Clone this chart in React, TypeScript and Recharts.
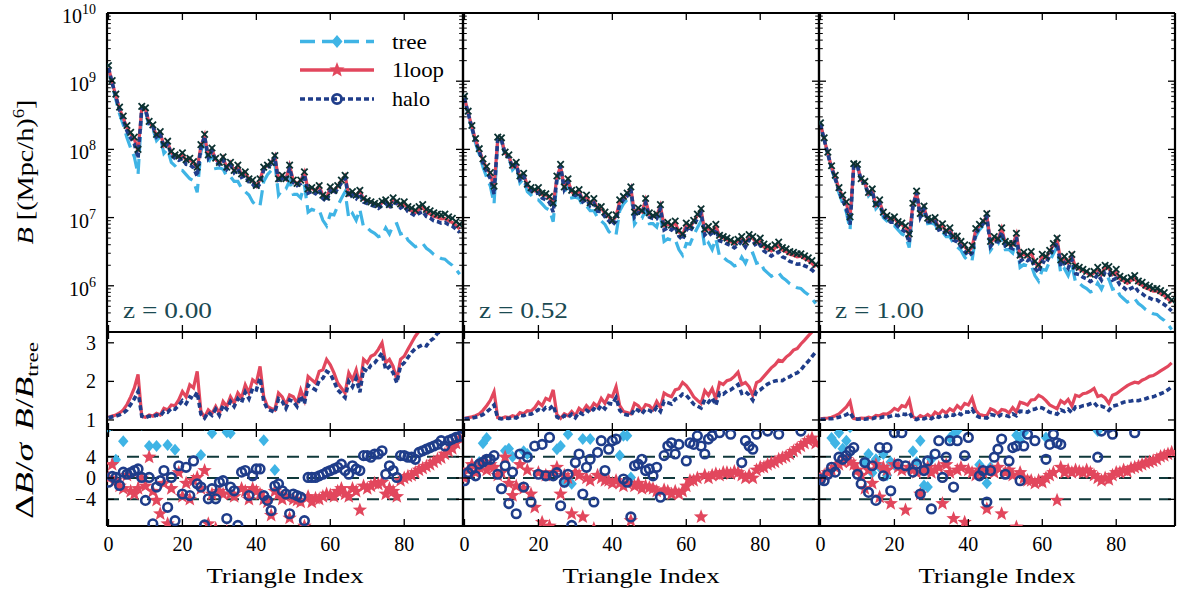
import React from 'react';
import { ComposedChart, Line, Scatter, XAxis, YAxis, ReferenceLine } from 'recharts';

// ---------------- categories & tick labels ----------------
const triangleIndex: number[] = Array.from({ length: 96 }, (_, i) => i);
const redshiftLabels = ['z = 0.00', 'z = 0.52', 'z = 1.00'];
const xTickValues = [0, 20, 40, 60, 80];
const ratioTickValues = [1, 2, 3];
const deltaTickValues = [-4, 0, 4];
const deltaGuideValues = [-4, 0, 4];
const logMajorExponents = [6, 7, 8, 9, 10];

// ---------------- tree-level bispectrum, log10 B [(Mpc/h)^6] ----------------
const treeZ0 = [
  9.17, 8.94, 8.73, 8.52, 8.36, 8.17, 8.02, 7.89, 7.63, 8.56,
  8.56, 8.34, 8.30, 8.13, 8.19, 7.94, 8.00, 7.81, 7.76, 7.70,
  7.69, 7.63, 7.57, 7.54, 7.37, 7.96, 8.17, 7.80, 7.93, 7.72,
  7.73, 7.71, 7.60, 7.60, 7.53, 7.53, 7.43, 7.38, 7.33, 7.23,
  7.17, 7.18, 7.53, 7.63, 7.69, 7.80, 7.33, 7.41, 7.42, 7.54,
  7.34, 7.34, 7.29, 7.48, 7.08, 7.12, 7.10, 7.11, 6.96, 6.88,
  7.05, 7.04, 7.17, 7.28, 7.38, 6.99, 7.06, 6.96, 7.12, 6.86,
  6.85, 6.80, 6.77, 6.72, 6.74, 6.85, 6.76, 6.89, 6.91, 6.76,
  6.78, 6.67, 6.62, 6.57, 6.60, 6.62, 6.55, 6.51, 6.46, 6.43,
  6.40, 6.39, 6.34, 6.30, 6.24, 6.17,
];
const treeZ052 = [
  8.74, 8.51, 8.30, 8.09, 7.93, 7.74, 7.59, 7.46, 7.20, 8.13,
  8.13, 7.91, 7.87, 7.70, 7.76, 7.51, 7.57, 7.38, 7.33, 7.27,
  7.26, 7.20, 7.14, 7.11, 6.94, 7.53, 7.74, 7.37, 7.50, 7.29,
  7.30, 7.28, 7.17, 7.17, 7.10, 7.10, 7.00, 6.95, 6.90, 6.80,
  6.74, 6.75, 7.10, 7.20, 7.26, 7.37, 6.90, 6.98, 6.99, 7.11,
  6.91, 6.91, 6.86, 7.05, 6.65, 6.69, 6.67, 6.68, 6.53, 6.45,
  6.62, 6.61, 6.74, 6.85, 6.95, 6.56, 6.63, 6.53, 6.69, 6.43,
  6.42, 6.37, 6.34, 6.29, 6.31, 6.42, 6.33, 6.46, 6.48, 6.33,
  6.35, 6.24, 6.19, 6.14, 6.17, 6.19, 6.12, 6.08, 6.03, 6.00,
  5.97, 5.96, 5.91, 5.87, 5.81, 5.74,
];
const treeZ1 = [
  8.36, 8.13, 7.92, 7.71, 7.55, 7.36, 7.21, 7.08, 6.82, 7.75,
  7.75, 7.53, 7.49, 7.32, 7.38, 7.13, 7.19, 7.00, 6.95, 6.89,
  6.88, 6.82, 6.76, 6.73, 6.56, 7.15, 7.36, 6.99, 7.12, 6.91,
  6.92, 6.90, 6.79, 6.79, 6.72, 6.72, 6.62, 6.57, 6.52, 6.42,
  6.36, 6.37, 6.72, 6.82, 6.88, 6.99, 6.52, 6.60, 6.61, 6.73,
  6.53, 6.53, 6.48, 6.67, 6.27, 6.31, 6.29, 6.30, 6.15, 6.07,
  6.24, 6.23, 6.36, 6.47, 6.57, 6.18, 6.25, 6.15, 6.31, 6.05,
  6.04, 5.99, 5.96, 5.91, 5.93, 6.04, 5.95, 6.08, 6.10, 5.95,
  5.97, 5.86, 5.81, 5.76, 5.79, 5.81, 5.74, 5.70, 5.65, 5.62,
  5.59, 5.58, 5.53, 5.49, 5.43, 5.36,
];

// ---------------- B_1loop / B_tree ----------------
const rLoopZ0 = [
  1.07, 1.10, 1.13, 1.18, 1.26, 1.40, 1.60, 1.83, 2.18, 1.09,
  1.07, 1.13, 1.10, 1.17, 1.13, 1.30, 1.26, 1.39, 1.37, 1.52,
  1.74, 1.60, 1.91, 1.83, 2.26, 1.22, 1.07, 1.26, 1.17, 1.35,
  1.17, 1.48, 1.35, 1.60, 1.43, 1.70, 1.57, 1.91, 1.70, 2.04,
  1.96, 2.39, 1.60, 1.35, 1.30, 1.26, 1.70, 1.60, 1.39, 1.65,
  1.60, 1.43, 1.78, 1.52, 2.13, 2.04, 1.96, 2.26, 2.30, 2.57,
  2.43, 2.22, 1.96, 1.83, 1.70, 2.22, 2.04, 2.30, 1.87, 2.57,
  2.48, 2.65, 2.70, 2.83, 3.00, 2.48, 2.57, 2.39, 2.04, 2.57,
  2.65, 2.83, 3.00, 3.17, 3.30, 3.40, 3.35, 3.50, 3.60, 3.75,
  3.80, 3.95, 4.10, 4.25, 4.40, 4.60,
];
const rLoopZ052 = [
  1.04, 1.06, 1.08, 1.11, 1.16, 1.25, 1.37, 1.51, 1.73, 1.06,
  1.04, 1.08, 1.06, 1.11, 1.08, 1.19, 1.16, 1.24, 1.23, 1.32,
  1.46, 1.37, 1.56, 1.51, 1.78, 1.14, 1.04, 1.16, 1.11, 1.22,
  1.11, 1.30, 1.22, 1.37, 1.27, 1.43, 1.35, 1.56, 1.43, 1.64,
  1.60, 1.86, 1.37, 1.22, 1.19, 1.16, 1.43, 1.37, 1.24, 1.40,
  1.37, 1.27, 1.48, 1.32, 1.70, 1.64, 1.60, 1.78, 1.81, 1.97,
  1.89, 1.76, 1.60, 1.51, 1.43, 1.76, 1.64, 1.81, 1.54, 1.97,
  1.92, 2.02, 2.05, 2.13, 2.24, 1.92, 1.97, 1.86, 1.64, 1.97,
  2.02, 2.13, 2.24, 2.35, 2.43, 2.55, 2.52, 2.63, 2.70, 2.81,
  2.85, 2.97, 3.07, 3.18, 3.28, 3.42,
];
const rLoopZ1 = [
  1.03, 1.04, 1.05, 1.07, 1.11, 1.16, 1.25, 1.34, 1.48, 1.04,
  1.03, 1.05, 1.04, 1.07, 1.05, 1.12, 1.11, 1.16, 1.15, 1.21,
  1.30, 1.25, 1.37, 1.34, 1.52, 1.09, 1.03, 1.11, 1.07, 1.14,
  1.07, 1.20, 1.14, 1.25, 1.18, 1.29, 1.23, 1.37, 1.29, 1.43,
  1.39, 1.57, 1.25, 1.14, 1.12, 1.11, 1.29, 1.25, 1.16, 1.27,
  1.25, 1.18, 1.32, 1.21, 1.46, 1.43, 1.39, 1.52, 1.53, 1.64,
  1.59, 1.50, 1.39, 1.34, 1.29, 1.50, 1.43, 1.53, 1.36, 1.64,
  1.61, 1.68, 1.70, 1.75, 1.82, 1.61, 1.64, 1.57, 1.43, 1.64,
  1.68, 1.75, 1.82, 1.89, 1.94, 1.98, 1.96, 2.03, 2.07, 2.13,
  2.15, 2.21, 2.27, 2.33, 2.39, 2.48,
];

// ---------------- B_halo / B_tree ----------------
const rHaloZ0 = [
  1.06, 1.08, 1.10, 1.13, 1.18, 1.26, 1.40, 1.55, 1.74, 1.10,
  1.06, 1.10, 1.08, 1.13, 1.10, 1.22, 1.20, 1.30, 1.28, 1.38,
  1.50, 1.42, 1.60, 1.55, 1.72, 1.15, 1.05, 1.20, 1.12, 1.28,
  1.12, 1.38, 1.28, 1.48, 1.35, 1.55, 1.45, 1.72, 1.55, 1.82,
  1.78, 2.09, 1.48, 1.28, 1.24, 1.20, 1.55, 1.48, 1.30, 1.52,
  1.48, 1.35, 1.62, 1.42, 1.90, 1.84, 1.78, 2.02, 2.08, 2.26,
  2.20, 2.00, 1.78, 1.68, 1.58, 2.00, 1.86, 2.08, 1.72, 2.32,
  2.26, 2.42, 2.48, 2.60, 2.74, 2.30, 2.38, 2.22, 1.96, 2.40,
  2.48, 2.62, 2.75, 2.85, 2.90, 2.95, 2.92, 3.05, 3.12, 3.25,
  3.30, 3.45, 3.60, 3.75, 3.90, 4.10,
];
const rHaloZ052 = [
  1.03, 1.04, 1.05, 1.07, 1.10, 1.14, 1.21, 1.29, 1.39, 1.05,
  1.03, 1.05, 1.04, 1.07, 1.05, 1.12, 1.11, 1.16, 1.15, 1.20,
  1.27, 1.22, 1.32, 1.29, 1.38, 1.08, 1.03, 1.11, 1.06, 1.15,
  1.06, 1.20, 1.15, 1.25, 1.19, 1.29, 1.24, 1.38, 1.29, 1.43,
  1.41, 1.58, 1.25, 1.15, 1.13, 1.11, 1.29, 1.25, 1.16, 1.28,
  1.25, 1.19, 1.33, 1.22, 1.48, 1.45, 1.41, 1.54, 1.57, 1.67,
  1.64, 1.53, 1.41, 1.36, 1.31, 1.53, 1.46, 1.57, 1.38, 1.70,
  1.67, 1.75, 1.78, 1.85, 1.92, 1.69, 1.73, 1.65, 1.51, 1.74,
  1.78, 1.86, 1.93, 1.98, 2.01, 2.03, 2.02, 2.09, 2.12, 2.19,
  2.22, 2.30, 2.42, 2.52, 2.64, 2.76,
];
const rHaloZ1 = [
  1.02, 1.02, 1.03, 1.03, 1.05, 1.07, 1.10, 1.14, 1.19, 1.03,
  1.02, 1.03, 1.02, 1.03, 1.03, 1.06, 1.05, 1.08, 1.07, 1.10,
  1.13, 1.11, 1.16, 1.14, 1.19, 1.04, 1.01, 1.05, 1.03, 1.07,
  1.03, 1.10, 1.07, 1.12, 1.09, 1.14, 1.12, 1.19, 1.14, 1.21,
  1.20, 1.28, 1.12, 1.07, 1.06, 1.05, 1.14, 1.12, 1.08, 1.14,
  1.12, 1.09, 1.16, 1.11, 1.23, 1.22, 1.20, 1.27, 1.28, 1.33,
  1.31, 1.26, 1.20, 1.18, 1.15, 1.26, 1.22, 1.28, 1.19, 1.34,
  1.33, 1.37, 1.38, 1.42, 1.45, 1.34, 1.36, 1.32, 1.25, 1.36,
  1.38, 1.42, 1.46, 1.48, 1.49, 1.51, 1.50, 1.53, 1.55, 1.59,
  1.60, 1.64, 1.68, 1.72, 1.78, 1.86,
];

// ---------------- measured bispectrum (crosses), log10 B ----------------
const dataZ0 = [
  9.23, 9.01, 8.81, 8.62, 8.49, 8.35, 8.25, 8.18, 8.00, 8.63,
  8.61, 8.41, 8.36, 8.22, 8.26, 8.07, 8.12, 7.97, 7.92, 7.90,
  7.95, 7.85, 7.87, 7.82, 7.74, 8.07, 8.22, 7.92, 8.02, 7.87,
  7.81, 7.89, 7.74, 7.81, 7.69, 7.77, 7.64, 7.67, 7.57, 7.55,
  7.47, 7.57, 7.74, 7.77, 7.81, 7.91, 7.57, 7.62, 7.57, 7.77,
  7.55, 7.50, 7.55, 7.67, 7.42, 7.44, 7.40, 7.47, 7.33, 7.30,
  7.45, 7.40, 7.47, 7.55, 7.62, 7.35, 7.38, 7.33, 7.40, 7.28,
  7.25, 7.23, 7.21, 7.19, 7.24, 7.26, 7.19, 7.29, 7.24, 7.20,
  7.23, 7.16, 7.14, 7.11, 7.16, 7.19, 7.12, 7.10, 7.07, 7.05,
  7.04, 7.05, 7.01, 6.99, 6.94, 6.90,
];
const dataZ052 = [
  8.78, 8.56, 8.35, 8.16, 8.01, 7.86, 7.75, 7.66, 7.46, 8.18,
  8.17, 7.96, 7.92, 7.77, 7.81, 7.61, 7.65, 7.49, 7.44, 7.41,
  7.44, 7.36, 7.35, 7.31, 7.21, 7.61, 7.78, 7.45, 7.57, 7.40,
  7.37, 7.41, 7.28, 7.33, 7.22, 7.28, 7.15, 7.16, 7.08, 7.04,
  6.96, 7.04, 7.26, 7.31, 7.36, 7.45, 7.08, 7.14, 7.10, 7.28,
  7.07, 7.03, 7.05, 7.19, 6.90, 6.93, 6.89, 6.95, 6.81, 6.76,
  6.92, 6.88, 6.96, 7.05, 7.13, 6.83, 6.87, 6.81, 6.90, 6.74,
  6.72, 6.70, 6.67, 6.64, 6.68, 6.72, 6.64, 6.75, 6.72, 6.65,
  6.70, 6.61, 6.58, 6.55, 6.60, 6.64, 6.56, 6.54, 6.50, 6.49,
  6.47, 6.47, 6.44, 6.41, 6.37, 6.31,
];
const dataZ1 = [
  8.39, 8.17, 7.96, 7.76, 7.62, 7.44, 7.33, 7.23, 7.01, 7.79,
  7.78, 7.57, 7.53, 7.37, 7.42, 7.20, 7.26, 7.08, 7.03, 6.99,
  7.01, 6.94, 6.92, 6.88, 6.76, 7.21, 7.39, 7.06, 7.17, 6.99,
  6.97, 7.00, 6.87, 6.91, 6.81, 6.85, 6.73, 6.73, 6.65, 6.60,
  6.52, 6.59, 6.84, 6.90, 6.95, 7.06, 6.65, 6.72, 6.69, 6.85,
  6.65, 6.62, 6.62, 6.77, 6.45, 6.49, 6.45, 6.50, 6.36, 6.31,
  6.46, 6.43, 6.52, 6.62, 6.70, 6.38, 6.43, 6.36, 6.46, 6.29,
  6.27, 6.24, 6.21, 6.17, 6.21, 6.27, 6.19, 6.30, 6.28, 6.19,
  6.24, 6.14, 6.11, 6.08, 6.12, 6.15, 6.07, 6.05, 6.01, 5.99,
  5.96, 5.96, 5.93, 5.90, 5.85, 5.79,
];

// ---------------- Delta B / sigma ----------------
const dTreeZ0 = [
  9.5, 10, 3.4, 11, 6.9, 12, 13, 14, 15, 10,
  11, 6.0, 12, 6.0, 13, 14, 6.2, 13, 5.3, 14,
  15, 16, 15, 17, 18, 4.3, 10, 11, 8.4, 13,
  14, 15, 8.6, 8.4, 16, 17, 15, 18, 17, 19,
  18, 20, 7.1, 13, 12, 1.5, 16, 17, 15, 18,
  19, 18, 20, 17, 21, 22, 20, 23, 22, 24,
  22, 21, 19, 18, 17, 23, 22, 24, 20, 25,
  24, 26, 25, 27, 28, 24, 25, 23, 21, 26,
  27, 28, 29, 30, 31, 32, 31, 33, 34, 35,
  35, 36, 37, 38, 39, 40,
];
const dLoopZ0 = [
  0.0, 2.5, -0.5, -1.5, -2.0, 0.5, -2.5, -3.0, -2.0, 0.0,
  -1.5, 3.9, -2.5, -4.2, -6.7, -1.0, -8.6, -2.0, -10, 1.0,
  -3.5, -1.0, -4.0, -0.5, 0.1, -2.0, 1.4, -8.6, -3.0, -9.5,
  -2.5, -3.0, -10, -3.0, -3.5, -11, -2.0, -2.5, -4.0, -2.0,
  -2.5, -3.0, -4.0, -4.5, -7.0, -2.5, -3.0, -4.0, -3.5, -7.5,
  -4.0, -4.2, -4.5, -9.0, -3.5, -4.5, -3.8, -4.0, -3.5, -3.0,
  -3.2, -3.5, -2.5, -2.0, -3.0, -3.5, -2.0, -2.5, -6.0, -1.5,
  -2.0, -1.5, -1.0, -1.2, -0.8, -3.0, -2.0, -2.5, -3.5, -0.5,
  0.0, 0.3, 0.5, 1.0, 1.5, 1.8, 2.2, 2.5, 3.0, 3.5,
  3.8, 4.5, 5.0, 5.5, 6.5, 7.5,
];
const dHaloZ0 = [
  -0.8, 0.3, 0.1, -1.4, 1.1, 0.7, 1.0, 1.4, 1.7, 0.1,
  -4.2, 0.1, -8.6, -1.7, -0.5, 1.4, -5.5, 0.1, -8.0, 2.3,
  -3.0, 2.0, -3.3, 3.2, -1.1, -1.7, -8.8, -3.9, -2.0, -3.9,
  -0.8, -0.5, -7.6, -1.7, -2.4, -8.9, 1.1, 1.4, -3.3, 0.4,
  1.7, 1.7, -3.3, -4.2, -6.1, -1.5, -1.1, -2.4, -3.0, -6.7,
  -3.0, -3.3, -3.6, -8.0, 0.1, 0.1, 0.1, 0.4, 0.7, 1.1,
  1.4, 1.7, 2.0, 2.6, 1.4, 0.7, 2.3, 1.7, 1.4, 4.2,
  4.2, 3.9, 4.5, 4.5, 5.1, 0.7, 2.3, 1.4, 0.1, 4.2,
  4.2, 3.9, 3.9, 3.5, 4.8, 5.1, 5.4, 5.7, 6.0, 6.3,
  7.0, 6.0, 7.0, 7.3, 7.6, 7.8,
];
const dTreeZ052 = [
  10, 11, 12, 13, 3.0, 6.5, 7.5, 12, 13, 10,
  11, 5.1, 5.5, 4.0, 12, 13, 5.0, 4.5, 14, 15,
  13, 14, 15, 16, 17, 5.4, 6.0, -0.8, 8.2, -1.1,
  14, 13, 7.3, 15, 7.3, 16, 17, 15, 18, 19,
  17, 18, 4.2, 7.9, 7.9, 0.1, 18, 19, 20, 21,
  20, 19, 22, 21, 23, 22, 24, 23, 25, 26,
  24, 23, 22, 21, 20, 25, 24, 26, 23, 27,
  26, 28, 27, 29, 30, 27, 28, 26, 24, 29,
  30, 31, 32, 33, 34, 35, 34, 36, 37, 38,
  39, 40, 41, 42, 43, 44,
];
const dLoopZ052 = [
  0.0, 1.5, 2.5, 1.0, 2.0, 3.0, 1.5, 2.5, 2.0, 0.5,
  1.0, 3.9, -1.0, -3.3, -1.5, 2.5, -2.0, 1.5, -3.0, -5.5,
  1.0, -8.3, 0.5, -9.0, 1.0, 2.0, -3.0, 0.5, 0.0, -6.7,
  1.0, 0.5, -7.3, 0.0, -0.5, -9.5, 0.5, 0.0, -0.5, -0.5,
  -1.0, -0.5, -1.0, -1.5, -1.0, -8.0, -1.5, -1.0, -2.0, -1.5,
  -1.8, -2.0, -2.5, -11, -2.2, -2.5, -3.0, -2.5, -3.0, -2.5,
  -1.5, -0.5, -0.5, 0.0, -7.3, 0.5, 0.0, 0.5, 0.8, 0.5,
  1.0, 1.0, 0.8, 1.2, 1.0, 0.5, 0.0, 0.5, 0.0, 1.5,
  2.0, 2.0, 2.5, 2.8, 3.0, 3.5, 3.8, 4.0, 4.5, 5.0,
  5.5, 6.0, 6.5, 7.0, 7.5, 6.5,
];
const dHaloZ052 = [
  -0.5, 1.0, 1.7, 0.4, 2.6, 3.0, 3.5, 3.5, 4.2, 0.7,
  -2.0, 2.3, -4.8, 1.1, -6.7, 4.5, -1.7, 3.9, -4.5, 6.0,
  0.7, 6.3, 0.4, 7.6, 0.4, 1.0, -5.2, -0.8, 0.7, -8.9,
  2.9, 4.5, -3.0, 2.0, 3.5, -4.5, 4.8, 7.0, 1.4, 5.4,
  7.0, 7.3, 10, -0.2, -0.8, -7.3, 2.3, 2.6, 3.5, 1.4,
  1.7, 0.4, 2.0, -3.6, 4.2, 6.0, 6.6, 4.5, 6.3, 10,
  3.2, 6.6, 6.3, 7.9, 6.0, 4.5, 7.3, 7.9, 11, 8.5,
  11, 12, 8.2, 12, 11, 2.9, 7.0, 6.0, 5.4, 8.2,
  12, 11, 8.8, 12, 13, 8.2, 12, 13, 12, 14,
  13, 8.8, 14, 15, 14, 16,
];
const dTreeZ1 = [
  10, 11, 12, 7.5, 6.5, 8.5, 5.5, 7.0, 9.5, 11,
  12, 13, 3.0, 4.5, 1.0, 3.5, 2.0, 4.5, 0.5, 3.0,
  2.5, 11, 12, 13, 14, 5.0, 3.0, 7.0, -1.4, -1.7,
  3.5, 12, 13, 14, 15, 7.5, 8.2, 8.8, 14, 15,
  16, 17, 15, 2.5, 1.0, -1.0, 2.0, 14, 16, 17,
  18, 17, 16, 8.0, 7.0, 8.5, 16, 17, 18, 19,
  17, 7.6, 18, 19, 17, 20, 19, 21, 20, 22,
  21, 23, 22, 24, 25, 8.8, 23, 24, 22, 25,
  26, 27, 28, 29, 30, 31, 30, 32, 33, 34,
  35, 36, 37, 38, 39, 40,
];
const dLoopZ1 = [
  0.0, 0.5, 1.0, 1.5, 2.0, 2.5, 3.0, 3.5, 3.0, 2.5,
  1.5, 0.5, -2.0, 1.5, -1.0, 2.5, -3.6, 2.0, 1.5, -4.8,
  2.5, 2.0, 1.5, -6.0, 2.0, 1.5, 1.0, -3.0, 1.5, 2.0,
  1.0, 1.5, 2.0, -4.8, 2.5, 1.0, -7.6, 1.5, 2.0, -8.3,
  1.5, 1.0, 0.5, 1.5, 1.0, -5.8, 1.5, 1.0, 2.0, -6.7,
  1.0, 1.5, 0.5, -9.2, 1.0, 0.0, -0.5, -0.5, -1.0, -0.5,
  -0.8, 0.0, 0.5, 1.0, -4.2, 2.0, 1.0, 1.5, 1.0, 1.5,
  1.2, 1.0, 1.5, 1.0, 0.5, 0.0, -0.5, 0.0, -0.3, 0.5,
  1.0, 1.0, 1.5, 1.2, 1.8, 2.0, 2.2, 2.5, 2.8, 3.0,
  3.2, 3.5, 4.0, 4.2, 4.5, 4.8,
];
const dHaloZ1 = [
  -0.3, -0.5, 0.7, 2.0, 1.1, 3.9, 3.5, 4.2, 5.1, 5.7,
  0.7, -1.1, 2.9, -2.7, 2.3, -4.2, 5.7, 0.4, 5.7, -2.4,
  8.5, 2.6, 8.5, 2.3, 11, 1.1, 2.6, -3.0, 1.4, 3.2,
  -5.8, 4.5, 7.0, 0.1, 3.9, 7.0, -1.7, 7.0, 11, 4.2,
  7.6, 12, 10, 0.4, 1.4, -4.5, 1.4, 3.9, 5.4, 7.3,
  0.7, 3.2, 5.7, 6.0, -0.5, 6.0, 8.2, 11, 7.0, 12,
  11, 3.5, 6.3, 8.2, 6.6, 6.3, 11, 12, 13, 12,
  11, 13, 12, 14, 13, 3.9, 8.8, 10, 9.5, 8.2,
  12, 13, 12, 14, 13, 8.5, 14, 13, 15, 14,
  13, 15, 16, 14, 15, 16,
];

// ---------------- styling & geometry ----------------
const FONT = "'Liberation Serif', 'DejaVu Serif', serif";
const C_TREE = '#3fb4e5';
const C_LOOP = '#e2475d';
const C_HALO = '#1f3d8a';
const C_DATA = '#0b3232';
const C_GUIDE = '#10393b';
const C_ZTEXT = '#1b4a52';

const COL_L = [107, 463, 819];
const PW = 356;
const ROWS = [
  { top: 13, h: 319 },
  { top: 332, h: 98 },
  { top: 430, h: 96 },
];
const ML = 100;
const MR = 20;
const MT = 15;
const MB = 45;
const AX = 1; // thickness reserved by each axis
const X_DOMAIN: [number, number] = [-0.4, 95.9];
const LOG_DOMAIN: [number, number] = [2.1e5, 1e10];
const RATIO_DOMAIN: [number, number] = [0.74, 3.28];
const DELTA_DOMAIN: [number, number] = [-9, 9];

const LOG_TICKS: number[] = [];
for (let n = 5; n <= 9; n++) {
  for (let k = 1; k <= 9; k++) {
    const v = k * Math.pow(10, n);
    if (v >= LOG_DOMAIN[0]) LOG_TICKS.push(v);
  }
}
LOG_TICKS.push(Math.pow(10, logMajorExponents[logMajorExponents.length - 1]));

const ZSETS = [
  { tree: treeZ0, rLoop: rLoopZ0, rHalo: rHaloZ0, data: dataZ0, dTree: dTreeZ0, dLoop: dLoopZ0, dHalo: dHaloZ0 },
  { tree: treeZ052, rLoop: rLoopZ052, rHalo: rHaloZ052, data: dataZ052, dTree: dTreeZ052, dLoop: dLoopZ052, dHalo: dHaloZ052 },
  { tree: treeZ1, rLoop: rLoopZ1, rHalo: rHaloZ1, data: dataZ1, dTree: dTreeZ1, dLoop: dLoopZ1, dHalo: dHaloZ1 },
];

function buildRows(z: any) {
  return triangleIndex.map((i) => {
    const tree = Math.pow(10, z.tree[i]);
    return {
      x: i,
      tree,
      loop: tree * z.rLoop[i],
      halo: tree * z.rHalo[i],
      data: Math.pow(10, z.data[i]),
      rLoop: z.rLoop[i],
      rHalo: z.rHalo[i],
      dTree: z.dTree[i],
      dLoop: z.dLoop[i],
      dHalo: z.dHalo[i],
    };
  });
}

// ---------------- marker shapes ----------------
const CrossShape = (p: any) => {
  const { cx, cy } = p;
  if (cx == null || cy == null) return <g />;
  const s = 3.2;
  return (
    <g stroke={C_DATA} strokeWidth={1.8}>
      <line x1={cx - s} y1={cy - s} x2={cx + s} y2={cy + s} />
      <line x1={cx - s} y1={cy + s} x2={cx + s} y2={cy - s} />
    </g>
  );
};
const DiamondShape = (p: any) => {
  const { cx, cy } = p;
  if (cx == null || cy == null) return <g />;
  return <path d={`M${cx},${cy - 6}L${cx + 5.2},${cy}L${cx},${cy + 6}L${cx - 5.2},${cy}Z`} fill={C_TREE} />;
};
function starPath(cx: number, cy: number, R: number, r: number) {
  let d = '';
  for (let k = 0; k < 10; k++) {
    const a = -Math.PI / 2 + (k * Math.PI) / 5;
    const rad = k % 2 === 0 ? R : r;
    d += (k ? 'L' : 'M') + (cx + rad * Math.cos(a)).toFixed(2) + ',' + (cy + rad * Math.sin(a)).toFixed(2);
  }
  return d + 'Z';
}
const StarShape = (p: any) => {
  const { cx, cy } = p;
  if (cx == null || cy == null) return <g />;
  return <path d={starPath(cx, cy, 7.6, 3.2)} fill={C_LOOP} />;
};
const RingShape = (p: any) => {
  const { cx, cy } = p;
  if (cx == null || cy == null) return <g />;
  return <circle cx={cx} cy={cy} r={4.3} fill="none" stroke={C_HALO} strokeWidth={2.6} />;
};

// ---------------- ticks ----------------
type Geo = { pl: number; pr: number; pt: number; pb: number };

const makeXTick = (g: Geo, side: 'b' | 't', label: boolean) => (props: any) => {
  const x = props.x;
  const v = props.payload ? props.payload.value : '';
  if (side === 'b') {
    return (
      <g>
        <line x1={x} x2={x} y1={g.pb} y2={g.pb - 7} stroke="#000" strokeWidth={1.3} />
        {label ? (
          <text x={x} y={g.pb + 25} textAnchor="middle" fontSize={20} fontFamily={FONT} fill="#000">
            {v}
          </text>
        ) : null}
      </g>
    );
  }
  return (
    <g>
      <line x1={x} x2={x} y1={g.pt} y2={g.pt + 7} stroke="#000" strokeWidth={1.3} />
    </g>
  );
};

const makeYTick = (g: Geo, side: 'l' | 'r', kind: 'log' | 'lin', label: boolean) => (props: any) => {
  const y = props.y;
  const v = props.payload ? props.payload.value : 0;
  let major = true;
  let expo = 0;
  if (kind === 'log') {
    const e = Math.log10(v);
    expo = Math.round(e);
    major = Math.abs(e - expo) < 1e-6;
  }
  const len = major ? 7 : 3.8;
  const x0 = side === 'l' ? g.pl : g.pr;
  const dir = side === 'l' ? 1 : -1;
  let txt: any = null;
  if (label && side === 'l' && major) {
    if (kind === 'log') {
      txt = (
        <text x={g.pl - 11} y={y + 10} textAnchor="end" fontSize={20} fontFamily={FONT} fill="#000">
          10
          <tspan dy={-9} fontSize={14}>
            {expo}
          </tspan>
        </text>
      );
    } else {
      txt = (
        <text x={g.pl - 11} y={y + 7} textAnchor="end" fontSize={20} fontFamily={FONT} fill="#000">
          {v < 0 ? '\u2212' + Math.abs(v) : String(v)}
        </text>
      );
    }
  }
  return (
    <g>
      <line x1={x0} x2={x0 + dir * len} y1={y} y2={y} stroke="#000" strokeWidth={major ? 1.3 : 1} />
      {txt}
    </g>
  );
};

// ---------------- one panel ----------------
function Panel({ row, col, rows }: { row: number; col: number; rows: any[] }) {
  const L = COL_L[col];
  const { top, h } = ROWS[row];
  const width = PW + ML + MR;
  const height = h + MT + MB;
  const g: Geo = { pl: ML, pr: ML + PW, pt: MT, pb: MT + h };
  const yKind: 'log' | 'lin' = row === 0 ? 'log' : 'lin';
  const yDomain = row === 0 ? LOG_DOMAIN : row === 1 ? RATIO_DOMAIN : DELTA_DOMAIN;
  const yTicks = row === 0 ? LOG_TICKS : row === 1 ? ratioTickValues : deltaTickValues;
  const axisLine = { stroke: '#000', strokeWidth: 2.2 };
  const common = { xAxisId: 'b', yAxisId: 'l', isAnimationActive: false } as any;

  return (
    <div style={{ position: 'absolute', left: L - ML, top: top - MT, width, height }}>
      <ComposedChart
        width={width}
        height={height}
        data={rows}
        margin={{ top: MT - AX, right: MR - AX, bottom: MB - AX, left: ML - AX }}
      >
        <XAxis
          xAxisId="b"
          dataKey="x"
          type="number"
          domain={X_DOMAIN}
          ticks={xTickValues}
          allowDataOverflow
          interval={0}
          height={AX}
          axisLine={axisLine}
          tickLine={false}
          tick={makeXTick(g, 'b', row === 2)}
        />
        <XAxis
          xAxisId="t"
          orientation="top"
          dataKey="x"
          type="number"
          domain={X_DOMAIN}
          ticks={xTickValues}
          allowDataOverflow
          interval={0}
          height={AX}
          axisLine={axisLine}
          tickLine={false}
          tick={makeXTick(g, 't', false)}
        />
        <YAxis
          yAxisId="l"
          type="number"
          scale={row === 0 ? 'log' : 'linear'}
          domain={yDomain}
          ticks={yTicks}
          allowDataOverflow
          interval={0}
          width={AX}
          axisLine={axisLine}
          tickLine={false}
          tick={makeYTick(g, 'l', yKind, col === 0)}
        />
        <YAxis
          yAxisId="r"
          orientation="right"
          type="number"
          scale={row === 0 ? 'log' : 'linear'}
          domain={yDomain}
          ticks={yTicks}
          allowDataOverflow
          interval={0}
          width={AX}
          axisLine={axisLine}
          tickLine={false}
          tick={makeYTick(g, 'r', yKind, false)}
        />

        {row === 2
          ? deltaGuideValues.map((v) => (
              <ReferenceLine
                key={'g' + v}
                xAxisId="b"
                yAxisId="l"
                y={v}
                stroke={C_GUIDE}
                strokeWidth={2}
                strokeDasharray="12 8"
              />
            ))
          : null}

        {row === 0 ? <Scatter {...common} dataKey="data" shape={CrossShape} /> : null}
        {row === 0 ? (
          <Line {...common} type="linear" dataKey="tree" stroke={C_TREE} strokeWidth={3.2} strokeDasharray="15 7" dot={false} activeDot={false} />
        ) : null}
        {row === 0 ? (
          <Line {...common} type="linear" dataKey="loop" stroke={C_LOOP} strokeWidth={3.2} dot={false} activeDot={false} />
        ) : null}
        {row === 0 ? (
          <Line {...common} type="linear" dataKey="halo" stroke={C_HALO} strokeWidth={3.6} strokeDasharray="5 3" dot={false} activeDot={false} />
        ) : null}

        {row === 1 ? (
          <Line {...common} type="linear" dataKey="rLoop" stroke={C_LOOP} strokeWidth={3.2} dot={false} activeDot={false} />
        ) : null}
        {row === 1 ? (
          <Line {...common} type="linear" dataKey="rHalo" stroke={C_HALO} strokeWidth={3.6} strokeDasharray="5 3" dot={false} activeDot={false} />
        ) : null}

        {row === 2 ? <Scatter {...common} dataKey="dTree" shape={DiamondShape} /> : null}
        {row === 2 ? <Scatter {...common} dataKey="dLoop" shape={StarShape} /> : null}
        {row === 2 ? <Scatter {...common} dataKey="dHalo" shape={RingShape} /> : null}
      </ComposedChart>
    </div>
  );
}

// ---------------- overlay texts & legend ----------------
function Overlay() {
  const legendRows = [
    { name: 'tree', y: 41.5, color: C_TREE, dash: '15 7', w: 35, marker: 'diamond' },
    { name: '1loop', y: 70, color: C_LOOP, dash: undefined, w: 52, marker: 'star' },
    { name: 'halo', y: 99, color: C_HALO, dash: '5 3', w: 38, marker: 'ring' },
  ];
  return (
    <svg width={1184} height={597} style={{ position: 'absolute', left: 0, top: 0, pointerEvents: 'none' }}>
      {/* y titles */}
      <text
        x={33}
        y={172}
        transform="rotate(-90 33 172)"
        textAnchor="middle"
        fontSize={24}
        fontFamily={FONT}
        fill="#000"
        textLength={145}
        lengthAdjust="spacingAndGlyphs"
      >
        <tspan fontStyle="italic">B</tspan>
        <tspan> [(Mpc/h)</tspan>
        <tspan dy={-9} fontSize={16}>6</tspan>
        <tspan dy={9}>]</tspan>
      </text>
      <text
        x={33}
        y={386}
        transform="rotate(-90 33 386)"
        textAnchor="middle"
        fontSize={26}
        fontFamily={FONT}
        fill="#000"
        textLength={88}
        lengthAdjust="spacingAndGlyphs"
      >
        <tspan fontStyle="italic">B</tspan>
        <tspan>/</tspan>
        <tspan fontStyle="italic">B</tspan>
        <tspan dy={5} fontSize={17}>tree</tspan>
      </text>
      <text
        x={33}
        y={481}
        transform="rotate(-90 33 481)"
        textAnchor="middle"
        fontSize={26}
        fontFamily={FONT}
        fill="#000"
        textLength={76}
        lengthAdjust="spacingAndGlyphs"
      >
        <tspan>Δ</tspan>
        <tspan fontStyle="italic">B</tspan>
        <tspan>/</tspan>
        <tspan fontStyle="italic">σ</tspan>
      </text>

      {/* x titles */}
      {COL_L.map((L, c) => (
        <text
          key={'xt' + c}
          x={L + PW / 2}
          y={583}
          textAnchor="middle"
          fontSize={22}
          fontFamily={FONT}
          fill="#000"
          textLength={157}
          lengthAdjust="spacingAndGlyphs"
        >
          Triangle Index
        </text>
      ))}

      {/* redshift labels */}
      {COL_L.map((L, c) => (
        <text
          key={'z' + c}
          x={L + 16}
          y={318}
          fontSize={23}
          fontFamily={FONT}
          fill={C_ZTEXT}
          textLength={89}
          lengthAdjust="spacingAndGlyphs"
        >
          {redshiftLabels[c]}
        </text>
      ))}

      {/* legend */}
      {legendRows.map((r) => (
        <g key={r.name}>
          <line x1={300} x2={374} y1={r.y} y2={r.y} stroke={r.color} strokeWidth={3.4} strokeDasharray={r.dash} />
          {r.marker === 'diamond' ? (
            <path d={`M337,${r.y - 6.5}L342.5,${r.y}L337,${r.y + 6.5}L331.5,${r.y}Z`} fill={r.color} />
          ) : null}
          {r.marker === 'star' ? <path d={starPath(337, r.y, 8, 3.4)} fill={r.color} /> : null}
          {r.marker === 'ring' ? <circle cx={337} cy={r.y} r={4.6} fill="none" stroke={r.color} strokeWidth={2.8} /> : null}
          <text
            x={392}
            y={r.y + 7}
            fontSize={21}
            fontFamily={FONT}
            fill="#000"
            textLength={r.w}
            lengthAdjust="spacingAndGlyphs"
          >
            {r.name}
          </text>
        </g>
      ))}
    </svg>
  );
}

export default function App() {
  const rowsByZ = ZSETS.map((z) => buildRows(z));
  const panels: any[] = [];
  for (let r = 0; r < 3; r++) {
    for (let c = 0; c < 3; c++) {
      panels.push(<Panel key={r + '-' + c} row={r} col={c} rows={rowsByZ[c]} />);
    }
  }
  return (
    <div style={{ position: 'absolute', left: 0, top: 0, width: 1184, height: 597, background: '#fff', overflow: 'hidden' }}>
      {panels}
      <Overlay />
    </div>
  );
}
